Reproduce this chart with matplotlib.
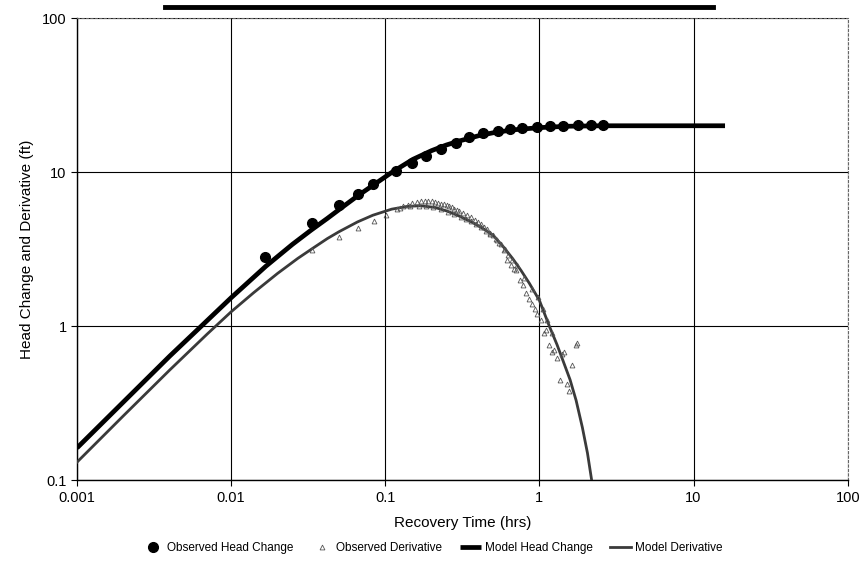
import matplotlib
matplotlib.use('Agg')
import matplotlib.pyplot as plt
from matplotlib.lines import Line2D
from matplotlib.ticker import FixedLocator, NullLocator

plt.rcParams['font.family'] = ['Liberation Sans', 'DejaVu Sans']

# observed head change (hrs, ft)
obs_t = [0.0167, 0.0333, 0.05, 0.0667, 0.0833, 0.117, 0.149, 0.185, 0.231, 0.286,
         0.349, 0.43, 0.537, 0.64, 0.77, 0.96, 1.17, 1.43, 1.77, 2.16, 2.6]
obs_head = [2.82, 4.69, 6.14, 7.23, 8.4, 10.1, 11.4, 12.8, 14.1, 15.5,
            17.0, 17.9, 18.5, 19.0, 19.3, 19.6, 19.8, 20.0, 20.1, 20.2, 20.3]

# observed derivative: early points, band above model, points on model, late tail
der_t = [0.0334, 0.0502, 0.067, 0.084, 0.101,
         0.12, 0.13, 0.14, 0.15, 0.16, 0.17, 0.18, 0.19, 0.2, 0.21,
         0.22, 0.23, 0.24, 0.25, 0.26, 0.27, 0.28, 0.29, 0.30, 0.32,
         0.34, 0.36, 0.38, 0.40, 0.42, 0.44, 0.46, 0.48, 0.50, 0.53, 0.56, 0.59,
         0.125, 0.145, 0.165, 0.185, 0.205, 0.23, 0.255, 0.28, 0.31, 0.335,
         0.36, 0.39, 0.42, 0.45, 0.48, 0.52, 0.55, 0.6, 0.63, 0.66,
         0.62, 0.65, 0.68, 0.71, 0.745, 0.78, 0.815, 0.85, 0.89, 0.93,
         0.97, 1.02, 1.07, 1.10, 1.15, 1.20, 1.25, 1.30, 1.36, 1.40,
         1.45, 1.50, 1.55, 1.62, 1.72, 1.76,
         0.72, 0.8, 0.9, 0.98, 1.05, 1.12, 1.2]
der_obs = [3.12, 3.81, 4.37, 4.83, 5.28,
           5.8, 6.0, 6.15, 6.3, 6.4, 6.45, 6.5, 6.5, 6.45, 6.4,
           6.35, 6.25, 6.2, 6.1, 6.0, 5.9, 5.8, 5.7, 5.6, 5.45,
           5.25, 5.1, 4.9, 4.75, 4.6, 4.4, 4.25, 4.05, 3.9, 3.65, 3.4, 3.1,
           5.85, 6.0, 6.05, 6.0, 5.95, 5.75, 5.55, 5.35, 5.1, 4.95,
           4.8, 4.6, 4.4, 4.15, 3.95, 3.7, 3.45, 3.15, 2.9, 2.7,
           2.7, 2.5, 2.35, 2.3, 2.0, 1.85, 1.65, 1.5, 1.4, 1.3,
           1.2, 1.1, 0.9, 0.95, 0.75, 0.68, 0.70, 0.62, 0.45, 0.66,
           0.68, 0.42, 0.38, 0.56, 0.76, 0.78,
           2.5, 2.05, 1.75, 1.55, 1.3, 1.1, 0.9]

# model head change
mod_t = [0.001, 0.002, 0.004, 0.0064, 0.01, 0.0168, 0.025, 0.033, 0.042, 0.05,
         0.066, 0.083, 0.11, 0.151, 0.2, 0.249, 0.3, 0.409, 0.5, 0.67,
         1.0, 1.5, 2.5, 5.0, 16.0]
mod_head = [0.162, 0.322, 0.64, 1.0, 1.53, 2.45, 3.4, 4.2, 5.0, 5.7,
            7.0, 8.2, 9.95, 12.1, 13.8, 15.0, 15.9, 17.3, 18.0, 18.8,
            19.45, 19.85, 20.0, 20.0, 20.0]

# model derivative
mdr_t = [0.001, 0.002, 0.004, 0.007, 0.01, 0.014, 0.02, 0.027, 0.033, 0.042,
         0.05, 0.066, 0.083, 0.11, 0.14, 0.17, 0.21, 0.25, 0.3, 0.37,
         0.44, 0.5, 0.58, 0.67, 0.76, 0.86, 1.0, 1.16, 1.3, 1.42,
         1.58, 1.73, 1.9, 2.05, 2.2]
mdr_val = [0.131, 0.262, 0.52, 0.89, 1.24, 1.65, 2.2, 2.75, 3.15, 3.7,
           4.1, 4.75, 5.25, 5.75, 6.0, 6.05, 5.9, 5.6, 5.2, 4.7,
           4.25, 3.9, 3.3, 2.75, 2.3, 1.9, 1.47, 1.0, 0.76, 0.6,
           0.45, 0.33, 0.22, 0.15, 0.095]

xticks = [0.001, 0.01, 0.1, 1, 10, 100]
xlabels = ['0.001', '0.01', '0.1', '1', '10', '100']
yticks = [0.1, 1, 10, 100]
ylabels = ['0.1', '1', '10', '100']

fig = plt.figure(figsize=(8.65, 5.65), dpi=100)
ax = fig.add_axes([0.089, 0.150, 0.891, 0.818])

ax.plot(mod_t, mod_head, color='black', lw=3.4, solid_capstyle='butt',
        label='Model Head Change', zorder=3)
ax.plot(mdr_t, mdr_val, color='#3a3a3a', lw=2.0,
        label='Model Derivative', zorder=3)
ax.plot(obs_t, obs_head, 'o', color='black', ms=7, label='Observed Head Change', zorder=4)
ax.plot(der_t, der_obs, '^', mfc='none', mec='#555555', mew=0.6, ms=3.5,
        label='Observed Derivative', zorder=4)

ax.set_xscale('log')
ax.set_yscale('log')
ax.set_xlim(0.001, 100)
ax.set_ylim(0.1, 100)
ax.xaxis.set_major_locator(FixedLocator(xticks))
ax.yaxis.set_major_locator(FixedLocator(yticks))
ax.xaxis.set_minor_locator(NullLocator())
ax.yaxis.set_minor_locator(NullLocator())
ax.set_xticklabels(xlabels, fontsize=10.5)
ax.set_yticklabels(ylabels, fontsize=10.5)
ax.tick_params(direction='out', length=4, width=0.8, color='black')

ax.grid(True, color='black', lw=0.8)
for side in ['top', 'right']:
    ax.spines[side].set_linestyle((0, (2, 2)))
    ax.spines[side].set_color('#666666')
for side in ['left', 'bottom']:
    ax.spines[side].set_linewidth(1.0)

ax.set_xlabel('Recovery Time (hrs)', fontsize=11, labelpad=8)
ax.set_ylabel('Head Change and Derivative (ft)', fontsize=11, labelpad=6)

# cut-off title underline at the top
fig.add_artist(Line2D([165 / 865, 713 / 865], [1 - 7 / 565, 1 - 7 / 565],
                      color='black', lw=3.5))

handles, labels = ax.get_legend_handles_labels()
order = [2, 3, 0, 1]
fig.legend([handles[i] for i in order], [labels[i] for i in order],
           loc='lower center', bbox_to_anchor=(0.5, 0.0), ncol=4, frameon=False,
           fontsize=8.5, handlelength=1.8, handletextpad=0.3, columnspacing=1.5)

fig.savefig('out.png', dpi=100)
